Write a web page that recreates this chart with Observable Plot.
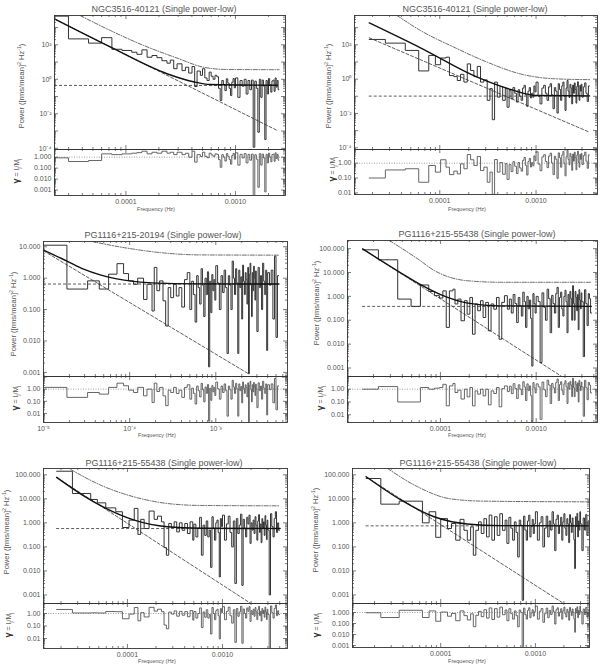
<!DOCTYPE html>
<html><head><meta charset="utf-8">
<script src="https://cdn.jsdelivr.net/npm/d3@7"></script>
<script src="https://cdn.jsdelivr.net/npm/@observablehq/plot@0.6"></script>
<style>
html,body{margin:0;padding:0;background:#fff}
#root{position:relative;width:600px;height:670px;overflow:hidden;font-family:"Liberation Sans",Arial,Helvetica,sans-serif;color:#555}
#root svg{position:absolute;overflow:visible}
.lbl{position:absolute;white-space:nowrap;transform:translate(-50%,-50%);line-height:1}
.rot{transform:translate(-50%,-50%) rotate(-90deg)}
sup,sub{font-size:70%;line-height:0}
</style></head><body><div id="root"></div>
<script>
// ---------------- titles & tick labels ----------------
const titles = ["NGC3516-40121 (Single power-low)","NGC3516-40121 (Single power-low)","PG1116+215-20194 (Single power-low)","PG1116+215-55438 (Single power-low)","PG1116+215-55438 (Single power-low)","PG1116+215-55438 (Single power-low)"];
const xLabDecVals = [1e-4, 1e-3];           const xLabDec = ["0.0001", "0.0010"];
const xLabPowVals = [1e-5, 1e-4, 1e-3];     const xLabPow = ["10⁻⁵", "10⁻⁴", "10⁻³"];
const yLabPowVals = [1e2, 1, 1e-2, 1e-4];   const yLabPow = ["10²", "10⁰", "10⁻²", "10⁻⁴"];
const yLab5Vals = [10, 1, 0.1, 0.01, 0.001]; const yLab5 = ["10.000","1.000","0.100","0.010","0.001"];
const yLab6Vals = [100, 10, 1, 0.1, 0.01, 0.001]; const yLab6 = ["100.000","10.000","1.000","0.100","0.010","0.001"];
const rLab4Vals = [1, 0.1, 0.01, 0.001];    const rLab4 = ["1.000","0.100","0.010","0.001"];
const rLab3Vals = [1, 0.1, 0.01];           const rLab3 = ["1.00","0.10","0.01"];

// ---------------- high-frequency periodogram grid (Hz) ----------------
const denseFreq = [
5.0e-4,5.25e-4,5.5e-4,5.75e-4,6.0e-4,6.25e-4,6.5e-4,6.75e-4,7.0e-4,7.25e-4,
7.5e-4,7.75e-4,8.0e-4,8.25e-4,8.5e-4,8.75e-4,9.0e-4,9.25e-4,9.5e-4,9.75e-4,
1.0e-3,1.05e-3,1.1e-3,1.15e-3,1.2e-3,1.25e-3,1.3e-3,1.35e-3,1.4e-3,1.45e-3,
1.5e-3,1.55e-3,1.6e-3,1.65e-3,1.7e-3,1.75e-3,1.8e-3,1.85e-3,1.9e-3,1.95e-3,
2.0e-3,2.05e-3,2.1e-3,2.15e-3,2.2e-3,2.25e-3,2.3e-3,2.35e-3,2.4e-3,2.45e-3,
2.5e-3,2.55e-3,2.6e-3,2.65e-3,2.7e-3,2.75e-3,2.8e-3,2.85e-3,2.9e-3,2.95e-3,
3.0e-3,3.1e-3,3.2e-3,3.3e-3,3.4e-3,3.5e-3,3.6e-3,3.7e-3,3.8e-3,3.9e-3,
4.0e-3,4.2e-3,4.4e-3,4.6e-3,4.8e-3,5.0e-3,5.2e-3,5.4e-3];

// ---------------- panel 1 : NGC3516-40121 ----------------
const p1LowFreq = [2.23e-5,2.99e-5,4.56e-5,6.0e-5,7.45e-5,9.2e-5,1.13e-4,1.26e-4,1.40e-4,1.56e-4,1.73e-4,1.92e-4,2.13e-4,2.37e-4,2.54e-4,2.73e-4,2.93e-4,3.25e-4,3.49e-4,3.74e-4,4.01e-4,4.24e-4,4.46e-4,4.78e-4];
const p1LowPower = [4600,220,125,260,55,47,37,28,51,19,24,18,12,8.6,13,4.1,7.9,3.2,5,2.3,5.5,0.38,3,1.7];
const p1LowResid = [0.87,0.4,0.5,2.0,1.7,2.0,2.3,2.6,3.5,2.0,2.8,2.3,3.5,2.3,2.8,1.7,2.8,1.7,2.3,1.0,3.5,0.35,1.7,1.15];
const p1DensePower = [4.1,1.2,0.85,2.6,1.5,1.0,1.7,1.4,0.3,0.059, 0.85,0.5,0.22,1.07,0.6,0.3,0.115,0.68,1.1,0.32, 1.2,0.09,0.85,0.4,1.0,0.14,0.85,0.25,0.9,0.000115, 0.78,0.3,0.00085,1.0,0.09,0.9,0.4,0.00032,0.85,0.14, 1.1,0.5,0.18,0.8,0.9,0.2,1.2,0.35,0.85,0.25];
const p1DenseResid = [2.8,1.2,0.9,2.3,1.6,1.2,2.0,1.8,0.6,0.12, 1.7,1.0,0.44,2.1,1.2,0.6,0.23,1.4,2.2,0.65, 2.5,0.19,1.8,0.85,2.1,0.3,1.8,0.53,1.9,0.00024, 1.65,0.64,0.0018,2.1,0.19,1.9,0.85,0.00068,1.8,0.3, 2.3,1.05,0.38,1.7,1.9,0.42,2.5,0.74,1.8,0.53];
const p1End = 2.5e-3;
const p1ModelF = [2.23e-5,7.19e-5,2.37e-4,4.13e-4,5.9e-4,2.41e-3];
const p1ModelP = [3150,75,2.1,0.72,0.5,0.45];
const p1PlF = [2.23e-5,2.41e-3];  const p1PlP = [3100,0.00107];
const p1DdF = [3.82e-5,7.19e-5,1.45e-4,2.93e-4,5.13e-4,8.4e-4,2.5e-3];
const p1DdP = [5000,680,92,17,5.0,3.7,3.6];
const p1Const = 0.44;

// ---------------- panel 2 : NGC3516-40121 ----------------
const p2LowFreq = [1.85e-5,2.72e-5,4.38e-5,6.04e-5,7.68e-5,9.0e-5,1.02e-4,1.16e-4,1.26e-4,1.40e-4,1.52e-4,1.64e-4,1.78e-4,1.93e-4,2.09e-4,2.26e-4,2.45e-4,2.65e-4,2.87e-4,3.11e-4,3.32e-4,3.51e-4,3.71e-4,3.96e-4,4.22e-4,4.50e-4,4.79e-4];
const p2LowPower = [205,125,47,3.0,24,6.9,17,19,1.6,1.4,0.83,1.9,0.67,7.7,3.2,1.4,5.5,0.67,0.9,0.058,0.28,0.0043,0.67,0.089,0.37,0.058,0.28];
const p2LowResid = [0.10,0.35,0.42,0.052,0.7,0.25,1.7,0.54,0.17,0.29,0.19,0.9,0.42,3.8,1.7,0.7,2.8,0.32,0.54,0.052,0.25,0.008,1.76,0.25,1.1,0.18,0.93];
const p2DensePower = [0.023,0.22,0.071,0.32,0.15,0.046,0.24,0.1,0.058,0.3, 0.43,0.12,0.026,0.2,0.32,0.08,0.15,0.089,0.4,0.18, 0.67,0.1,0.036,0.3,0.43,0.15,0.058,0.35,0.54,0.12, 0.019,0.32,0.2,0.0105,0.54,0.25,0.058,0.4,0.67,0.1, 0.015,0.3,0.83,0.2,0.085,0.5,0.3,0.036,0.45,0.15, 0.6,0.25,0.04,0.38,0.7,0.12,0.058,0.43,0.2,0.5, 0.089,0.35,0.6,0.15,0.05,0.4];
const p2DenseResid = [0.08,0.8,0.27,1.25,0.62,0.2,1.1,0.48,0.29,1.55, 2.4,0.7,0.16,1.3,2.1,0.55,1.1,0.66,3.1,1.45, 5.8,0.87,0.31,2.6,3.7,1.3,0.5,3.0,4.7,1.04, 0.17,2.9,1.8,0.095,4.9,2.3,0.53,3.6,6.1,0.91, 0.14,2.7,7.5,1.8,0.77,4.5,2.7,0.33,4.1,1.36, 5.5,2.3,0.36,3.5,6.4,1.1,0.53,3.9,1.8,4.5, 0.81,3.2,5.5,1.36,0.45,3.6];
const p2End = 3.6e-3;
const p2ModelF = [1.85e-5,6.3e-5,2.45e-4,5.45e-4,1.03e-3,3.6e-3];
const p2ModelP = [1900,67,1.3,0.25,0.11,0.105];
const p2PlF = [1.85e-5,3.6e-3];  const p2PlP = [256,0.0008];
const p2DdF = [3.6e-5,6.3e-5,1.40e-4,3.11e-4,6.9e-4,1.54e-3,3.6e-3];
const p2DdP = [5100,680,73,9.7,2.0,1.05,0.93];
const p2Const = 0.102;

// ---------------- panel 3 : PG1116+215-20194 ----------------
const p3LowFreq = [1.0e-5,1.87e-5,3.25e-5,4.44e-5,5.7e-5,7.13e-5,8.5e-5,9.7e-5,1.11e-4,1.24e-4,1.45e-4,1.59e-4,1.82e-4,1.93e-4,2.07e-4,2.23e-4,2.44e-4,2.62e-4,2.8e-4,3.0e-4,3.24e-4,3.48e-4,3.74e-4,4.03e-4,4.33e-4,4.66e-4];
const p3LowPower = [11.2,0.45,0.82,0.45,1.34,2.9,1.4,0.82,0.64,1.0,0.21,0.64,0.09,2.2,0.4,0.82,0.19,0.03,0.5,0.24,0.64,0.27,0.5,0.12,0.9,1.5];
const p3LowResid = [1.4,0.21,0.53,0.39,1.4,3.1,1.9,0.83,0.53,1.4,0.28,1.0,0.08,3.1,0.64,1.4,0.28,0.044,0.83,0.53,1.4,0.44,0.83,0.21,1.4,2.3];
const p3DensePower = [0.1,0.8,0.3,0.04,1.2,0.5,0.15,2.0,0.6,0.06, 1.0,0.3,1.6,0.0015,0.8,0.08,1.3,0.4,0.9,0.2, 2.5,0.7,0.1,1.2,0.35,1.8,0.5,0.004,1.2,0.6, 0.1,3.5,1.0,0.3,2.0,0.7,0.004,1.8,0.5,1.1, 0.05,2.6,0.8,0.3,1.5,0.9,0.15,2.2,0.0009,1.3, 3.0,0.6,0.06,1.5,0.4,2.4,1.0,0.2,1.7,0.7, 0.02,2.2,0.5,1.2,0.1,3.0,0.8,0.3,1.8,0.005, 1.5,0.6,1.8,0.05,5.0,0.013,1.2];
const p3DenseResid = [0.15,1.2,0.45,0.06,1.8,0.75,0.23,3.0,0.9,0.09, 1.5,0.45,2.4,0.0023,1.2,0.12,2.0,0.6,1.4,0.3, 3.8,1.05,0.15,1.8,0.53,2.7,0.75,0.006,1.8,0.9, 0.15,5.3,1.5,0.45,3.0,1.05,0.006,2.7,0.75,1.65, 0.075,3.9,1.2,0.45,2.3,1.35,0.23,3.3,0.0014,2.0, 4.5,0.9,0.09,2.3,0.6,3.6,1.5,0.3,2.6,1.05, 0.03,3.3,0.75,1.8,0.15,4.5,1.2,0.45,2.7,0.0075, 2.3,0.9,2.7,0.075,7.5,0.02,1.8];
const p3End = 5.4e-3;
const p3ModelF = [1e-5,1.87e-5,2.92e-5,4.55e-5,1.11e-4,2.72e-4,6.6e-4,5.4e-3];
const p3ModelP = [7.8,3.5,1.93,1.27,0.79,0.68,0.66,0.65];
const p3PlF = [1e-5,2.42e-3];  const p3PlP = [7.4,0.00089];
const p3DdF = [2.92e-5,4.0e-5,1.11e-4,2.72e-4,6.6e-4,5.4e-3];
const p3DdP = [17,14,8.4,6.2,5.5,5.4];
const p3Const = 0.65;

// ---------------- panel 4 : PG1116+215-55438 ----------------
const p4LowFreq = [1.54e-5,2.25e-5,3.58e-5,4.94e-5,6.18e-5,7.55e-5,8.65e-5,9.76e-5,1.06e-4,1.15e-4,1.24e-4,1.35e-4,1.42e-4,1.52e-4,1.64e-4,1.78e-4,1.9e-4,2.03e-4,2.16e-4,2.3e-4,2.45e-4,2.62e-4,2.79e-4,2.97e-4,3.17e-4,3.38e-4,3.61e-4,3.85e-4,4.1e-4,4.37e-4,4.66e-4];
const p4LowPower = [89,34,0.77,0.38,3.0,1.6,1.07,0.85,1.7,0.05,1.7,2.0,0.48,0.77,0.095,0.66,0.18,0.9,0.026,0.48,0.25,0.66,0.13,0.56,0.036,0.48,0.29,0.9,0.016,0.56,1.07];
const p4LowResid = [1.0,1.6,0.1,0.1,1.35,1.0,1.2,1.35,2.4,0.05,1.8,2.8,0.55,0.84,0.17,1.0,0.25,1.35,0.05,0.74,0.41,1.0,0.3,1.0,0.06,0.74,0.46,1.35,0.042,1.1,1.8];
const p4DensePower = [0.29,0.77,0.2,1.2,0.5,0.08,0.9,0.4,0.15,1.5, 0.6,0.05,1.0,0.3,0.7,0.12,0.0012,1.3,0.5,0.2, 1.0,0.6,0.0017,1.4,0.35,0.1,2.0,0.8,0.03,1.1, 0.5,0.2,1.3,2.4,0.05,0.9,1.5,0.3,0.15,1.0, 1.8,0.6,0.03,1.2,0.4,1.6,0.8,0.1,2.8,0.5, 0.1,1.6,0.9,0.25,1.2,0.04,1.9,0.7,0.3,1.4, 0.6,0.003,1.9,0.5,0.06,1.3,0.8,0.2];
const p4DenseResid = [0.65,1.7,0.45,2.7,1.15,0.19,2.2,1.0,0.38,3.8, 1.5,0.13,2.6,0.77,1.8,0.31,0.003,3.3,1.3,0.51, 2.6,1.5,0.0044,3.6,0.9,0.26,5.1,2.1,0.077,2.8, 1.3,0.51,3.3,6.2,0.13,2.3,3.8,0.77,0.38,2.6, 4.6,1.5,0.077,3.1,1.0,4.1,2.1,0.26,7.2,1.3, 0.26,4.1,2.3,0.64,3.1,0.1,4.9,1.8,0.77,3.6, 1.5,0.0077,4.9,1.3,0.15,3.3,2.1,0.51];
const p4End = 3.8e-3;
const p4ModelF = [1.54e-5,3.88e-5,6.28e-5,1.02e-4,1.93e-4,4.3e-4,3.76e-3];
const p4ModelP = [97,9.5,3.0,1.15,0.52,0.40,0.38];
const p4PlF = [1.54e-5,1.82e-3];  const p4PlP = [97,0.00046];
const p4DdF = [2.93e-5,5.8e-5,8.66e-5,1.93e-4,4.3e-4,3.76e-3];
const p4DdP = [219,37,12,4.5,3.9,3.9];
const p4Const = 0.38;

// ---------------- panel 5 : PG1116+215-55438 ----------------
const p5LowFreq = [1.8e-5,2.64e-5,4.11e-5,4.83e-5,5.92e-5,7.54e-5,8.86e-5,1.04e-4,1.18e-4,1.29e-4,1.38e-4,1.5e-4,1.69e-4,1.91e-4,2.07e-4,2.28e-4,2.43e-4,2.57e-4,2.72e-4,2.9e-4,3.1e-4,3.3e-4,3.52e-4,3.76e-4,4.01e-4,4.28e-4,4.56e-4,4.87e-4];
const p5LowPower = [141,16.6,9.4,6.8,4.2,2.9,0.64,1.3,4.0,0.33,1.4,0.58,3.1,1.4,1.9,1.1,0.094,0.045,0.94,0.64,1.1,0.42,1.0,0.49,0.94,0.36,1.1,0.19];
const p5LowResid = [2.1,1.1,1.13,1.1,1.45,1.4,0.38,0.9,3.0,0.26,1.17,0.53,3.1,1.55,2.2,1.4,0.12,0.06,1.3,0.9,1.6,0.61,1.47,0.73,1.42,0.55,1.7,0.3];
const p5DensePower = [0.88,0.26,0.6,1.7,0.045,0.8,0.3,1.2,0.26,0.5, 0.014,1.8,0.6,0.19,1.0,1.3,0.4,0.0056,1.5,0.7, 2.1,0.19,0.9,1.9,0.4,0.1,1.2,0.003,1.5,0.36, 0.8,2.3,0.0025,1.4,0.6,0.26,1.7,0.9,2.1,0.14, 1.0,0.5,1.3,0.36,1.8,0.8,0.19,1.2,2.2,0.4, 0.9,0.15,1.5,0.6,1.1,0.3,2.0,0.8,0.2,1.3, 0.5,0.001,2.4,0.7,0.26,1.5,2.9,0.4,1.0,0.49];
const p5DenseResid = [1.45,0.43,1.0,2.8,0.075,1.33,0.5,2.0,0.43,0.83, 0.023,3.0,1.0,0.32,1.67,2.2,0.67,0.0093,2.5,1.17, 3.5,0.32,1.5,3.2,0.67,0.17,2.0,0.005,2.5,0.6, 1.33,3.8,0.0042,2.3,1.0,0.43,2.8,1.5,3.5,0.23, 1.67,0.83,2.2,0.6,3.0,1.33,0.32,2.0,3.7,0.67, 1.5,0.25,2.5,1.0,1.8,0.5,3.3,1.33,0.33,2.2, 0.83,0.0017,4.0,1.17,0.43,2.5,4.8,0.67,1.67,0.82];
const p5End = 4.0e-3;
const p5ModelF = [1.8e-5,3.5e-5,5.24e-5,1.18e-4,2.63e-4,5.9e-4,4.04e-3];
const p5ModelP = [78,13,5.2,1.3,0.69,0.6,0.58];
const p5PlF = [1.8e-5,1.99e-3];  const p5PlP = [78,0.00044];
const p5DdF = [2.54e-5,5.24e-5,1.18e-4,2.63e-4,5.9e-4,4.04e-3];
const p5DdP = [166,37,12,6.4,5.3,5.1];
const p5Const = 0.58;

// ---------------- panel 6 : PG1116+215-55438 ----------------
const p6LowFreq = [1.63e-5,2.33e-5,3.64e-5,6.41e-5,7.54e-5,8.86e-5,1.0e-4,1.18e-4,1.3e-4,1.44e-4,1.6e-4,1.76e-4,1.91e-4,2.07e-4,2.21e-4,2.35e-4,2.51e-4,2.68e-4,2.86e-4,3.05e-4,3.25e-4,3.47e-4,3.7e-4,3.95e-4,4.21e-4,4.49e-4,4.79e-4];
const p6LowPower = [70,6.0,8.0,1.0,2.9,0.25,1.5,0.58,0.94,0.19,1.4,0.49,0.19,0.68,0.045,0.49,1.1,0.36,1.5,0.26,2.1,0.19,1.8,0.3,2.4,0.49,1.3];
const p6LowResid = [0.95,0.35,1.6,0.35,1.4,0.16,1.1,0.46,0.82,0.18,1.4,0.52,0.21,0.76,0.051,0.56,1.28,0.42,1.8,0.31,2.6,0.23,2.25,0.38,3.1,0.63,1.7];
const p6DensePower = [0.14,1.7,0.6,0.19,1.1,0.4,0.038,1.3,0.8,0.0006, 1.9,0.5,0.19,1.2,2.1,0.26,0.7,1.4,0.36,0.9, 2.9,0.19,1.0,1.8,0.1,0.6,1.9,0.26,1.2,0.5, 2.9,0.9,0.07,1.4,2.1,0.36,0.8,1.7,0.19,1.1, 2.4,0.6,0.3,1.5,0.9,0.15,2.2,1.0,0.4,1.6, 0.8,0.2,0.0125,1.8,0.7,2.5,0.26,1.2,0.5,2.9, 0.9,0.07,1.6,0.5,2.2,0.3,1.2];
const p6DenseResid = [0.18,2.2,0.78,0.25,1.4,0.52,0.05,1.7,1.04,0.0008, 2.5,0.65,0.25,1.56,2.7,0.34,0.91,1.8,0.47,1.17, 3.8,0.25,1.3,2.3,0.13,0.78,2.5,0.34,1.56,0.65, 3.8,1.17,0.09,1.8,2.7,0.47,1.04,2.2,0.25,1.4, 3.1,0.78,0.39,1.95,1.17,0.2,2.9,1.3,0.52,2.1, 1.04,0.26,0.016,2.3,0.91,3.3,0.34,1.56,0.65,3.8, 1.17,0.09,2.1,0.65,2.9,0.39,1.56];
const p6End = 3.7e-3;
const p6ModelF = [1.63e-5,3.79e-5,8.5e-5,1.91e-4,4.28e-4,3.67e-3];
const p6ModelP = [83,9,1.8,0.9,0.77,0.75];
const p6PlF = [1.63e-5,1.99e-3];  const p6PlP = [83,0.00044];
const p6DdF = [2.75e-5,5.68e-5,1.27e-4,2.86e-4,3.67e-3];
const p6DdP = [183,32,10,8,7.5];
const p6Const = 0.75;

// ---------------- scale domains ----------------
const xDomains = [[2.23e-5,2.86e-3],[1.30e-5,4.35e-3],[1e-5,6.8e-3],[1.07e-5,4.37e-3],[1.31e-5,4.83e-3],[1.17e-5,3.73e-3]];
const yDomains = [[8.5e-5,5000],[7.9e-5,5100],[7.4e-4,14.7],[4.4e-4,219],[4.4e-4,183],[4.4e-4,183]];
const rDomains = [[3.2e-4,5.0],[0.0078,8.3],[0.0018,11],[0.0025,9.8],[0.0016,6.3],[6.6e-4,6.6]];

// ---------------- layout (page pixels) ----------------
const layout = [
  {box:[54,285,15,149,195],  title:[164,9],   xl:[156,210], yl:[22,86],  rl:[16,171]},
  {box:[354,597,15,149,194], title:[475,9],   xl:[467,210], yl:[329,86], rl:[332,169]},
  {box:[43,287,241,376,422], title:[163,235], xl:[157,436], yl:[14,314], rl:[15,398]},
  {box:[347,597,240,376,422],title:[477,234], xl:[467,436], yl:[317,303],rl:[320,398]},
  {box:[43,287,468,603,648], title:[164,463], xl:[157,662], yl:[7,532],  rl:[8,625]},
  {box:[352,589,468,603,647],title:[478,463], xl:[467,662], yl:[316,530],rl:[316,625]}
];

function assemble(lowF, lowP, lowR, dP, dR, end) {
  const grid = denseFreq.filter(f => f <= end + 1e-12);
  return {freq: lowF.concat(grid), power: lowP.concat(dP), resid: lowR.concat(dR)};
}
const series = [
  assemble(p1LowFreq, p1LowPower, p1LowResid, p1DensePower, p1DenseResid, p1End),
  assemble(p2LowFreq, p2LowPower, p2LowResid, p2DensePower, p2DenseResid, p2End),
  assemble(p3LowFreq, p3LowPower, p3LowResid, p3DensePower, p3DenseResid, p3End),
  assemble(p4LowFreq, p4LowPower, p4LowResid, p4DensePower, p4DenseResid, p4End),
  assemble(p5LowFreq, p5LowPower, p5LowResid, p5DensePower, p5DenseResid, p5End),
  assemble(p6LowFreq, p6LowPower, p6LowResid, p6DensePower, p6DenseResid, p6End)
];
const curves = [
  {mF:p1ModelF,mP:p1ModelP,plF:p1PlF,plP:p1PlP,ddF:p1DdF,ddP:p1DdP,c:p1Const,xv:xLabDecVals,xs:xLabDec,yv:yLabPowVals,ys:yLabPow,rv:rLab4Vals,rs:rLab4},
  {mF:p2ModelF,mP:p2ModelP,plF:p2PlF,plP:p2PlP,ddF:p2DdF,ddP:p2DdP,c:p2Const,xv:xLabDecVals,xs:xLabDec,yv:yLabPowVals,ys:yLabPow,rv:rLab3Vals,rs:rLab3},
  {mF:p3ModelF,mP:p3ModelP,plF:p3PlF,plP:p3PlP,ddF:p3DdF,ddP:p3DdP,c:p3Const,xv:xLabPowVals,xs:xLabPow,yv:yLab5Vals,ys:yLab5,rv:rLab3Vals,rs:rLab3},
  {mF:p4ModelF,mP:p4ModelP,plF:p4PlF,plP:p4PlP,ddF:p4DdF,ddP:p4DdP,c:p4Const,xv:xLabDecVals,xs:xLabDec,yv:yLab6Vals,ys:yLab6,rv:rLab3Vals,rs:rLab3},
  {mF:p5ModelF,mP:p5ModelP,plF:p5PlF,plP:p5PlP,ddF:p5DdF,ddP:p5DdP,c:p5Const,xv:xLabDecVals,xs:xLabDec,yv:yLab6Vals,ys:yLab6,rv:rLab3Vals,rs:rLab3},
  {mF:p6ModelF,mP:p6ModelP,plF:p6PlF,plP:p6PlP,ddF:p6DdF,ddP:p6DdP,c:p6Const,xv:xLabDecVals,xs:xLabDec,yv:yLab6Vals,ys:yLab6,rv:rLab4Vals,rs:rLab4}
];

// ---------------- helpers ----------------
function steps(freq, vals) {
  const n = Math.min(vals.length, freq.length - 1);
  const rows = [];
  for (let i = 0; i < n; i++) rows.push({f: freq[i], v: vals[i]});
  rows.push({f: freq[n], v: vals[n - 1]});
  return rows;
}
function pairs(F, P) { return F.map((f, i) => ({f, v: P[i]})); }
function logTicks(dom) {
  const all = d3.scaleLog().domain(dom).ticks();
  const major = all.filter(t => Math.abs(Math.log10(t) - Math.round(Math.log10(t))) < 1e-6);
  const minor = all.filter(t => !major.includes(t));
  return {major, minor};
}
function tickMarks(xd, yd, W, H) {
  const xt = logTicks(xd), yt = logTicks(yd);
  const s = {stroke: "#444", strokeWidth: 0.7};
  return [
    Plot.tickX(xt.major, {x: d => d, insetTop: H - 4, ...s}),
    Plot.tickX(xt.major, {x: d => d, insetBottom: H - 4, ...s}),
    Plot.tickX(xt.minor, {x: d => d, insetTop: H - 2, ...s}),
    Plot.tickX(xt.minor, {x: d => d, insetBottom: H - 2, ...s}),
    Plot.tickY(yt.major, {y: d => d, insetRight: W - 4, ...s}),
    Plot.tickY(yt.major, {y: d => d, insetLeft: W - 4, ...s}),
    Plot.tickY(yt.minor, {y: d => d, insetRight: W - 2, ...s}),
    Plot.tickY(yt.minor, {y: d => d, insetLeft: W - 2, ...s})
  ];
}
const svgStyle = {fontSize: "7px", fontFamily: "'Liberation Sans', Arial, sans-serif", color: "#555", background: "transparent", overflow: "visible"};
const root = document.getElementById("root");
function place(el, left, top) { el.style.left = left + "px"; el.style.top = top + "px"; root.appendChild(el); }
function label(html, cx, cy, size, rot) {
  const d = document.createElement("div");
  d.className = "lbl" + (rot ? " rot" : "");
  d.style.left = cx + "px"; d.style.top = cy + "px"; d.style.fontSize = size + "px";
  d.innerHTML = html; root.appendChild(d);
}

series.forEach((s, k) => {
  const p = curves[k];
  const L = layout[k];
  const [x0, x1, y0, y1, y2] = L.box;
  const W = x1 - x0, H = y1 - y0, RH = y2 - y1;
  const mL = 36, mR = 2;
  const fEnd = s.freq[Math.min(s.power.length, s.freq.length - 1)];
  const dash = {stroke: "#333", strokeWidth: 0.8, strokeDasharray: "3,2"};

  const main = Plot.plot({
    width: W + mL + mR, height: H + 2,
    marginLeft: mL, marginRight: mR, marginTop: 1, marginBottom: 1,
    x: {type: "log", domain: xDomains[k], axis: null},
    y: {type: "log", domain: yDomains[k], axis: null},
    style: svgStyle,
    marks: [
      Plot.ruleY([p.c], {x1: s.freq[0], x2: fEnd, ...dash}),
      Plot.line(pairs(p.plF, p.plP), {x: "f", y: "v", ...dash, clip: true}),
      Plot.line(pairs(p.ddF, p.ddP), {x: "f", y: "v", curve: "monotone-x", stroke: "#444", strokeWidth: 0.8, strokeDasharray: "4,1.5,1,1.5", clip: true}),
      Plot.line(steps(s.freq, s.power), {x: "f", y: "v", curve: "step-after", stroke: "#333", strokeWidth: 1.0, clip: true}),
      Plot.line(pairs(p.mF, p.mP), {x: "f", y: "v", curve: "monotone-x", stroke: "#111", strokeWidth: 1.4, clip: true}),
      ...tickMarks(xDomains[k], yDomains[k], W, H),
      Plot.axisY({ticks: p.yv, tickFormat: d => p.ys[p.yv.indexOf(d)], tickSize: 0, tickPadding: 3, label: null}),
      Plot.frame({stroke: "#333", strokeWidth: 0.9})
    ]
  });
  place(main, x0 - mL, y0 - 1);

  const res = Plot.plot({
    width: W + mL + mR, height: RH + 1 + 16,
    marginLeft: mL, marginRight: mR, marginTop: 1, marginBottom: 16,
    x: {type: "log", domain: xDomains[k], axis: null},
    y: {type: "log", domain: rDomains[k], axis: null},
    style: svgStyle,
    marks: [
      Plot.ruleY([1], {stroke: "#777", strokeWidth: 0.7, strokeDasharray: "1,1.5"}),
      Plot.line(steps(s.freq, s.resid), {x: "f", y: "v", curve: "step-after", stroke: "#555", strokeWidth: 0.9, clip: true}),
      ...tickMarks(xDomains[k], rDomains[k], W, RH),
      Plot.axisY({ticks: p.rv, tickFormat: d => p.rs[p.rv.indexOf(d)], tickSize: 0, tickPadding: 3, label: null}),
      Plot.axisX({ticks: p.xv, tickFormat: d => p.xs[p.xv.indexOf(d)], tickSize: 0, tickPadding: 4, label: null}),
      Plot.frame({stroke: "#333", strokeWidth: 0.9})
    ]
  });
  place(res, x0 - mL, y1 - 1);

  label(titles[k], L.title[0], L.title[1], 9, false);
  label("Frequency (Hz)", L.xl[0], L.xl[1], 5.5, false);
  label("Power ([rms/mean]<sup>2</sup> Hz<sup>-1</sup>)", L.yl[0], L.yl[1], 7.5, true);
  label("<b style='font-size:9px;color:#333'>γ</b> = I<sub>j</sub>/M<sub>j</sub>", L.rl[0], L.rl[1], 7, true);
});
</script></body></html>
